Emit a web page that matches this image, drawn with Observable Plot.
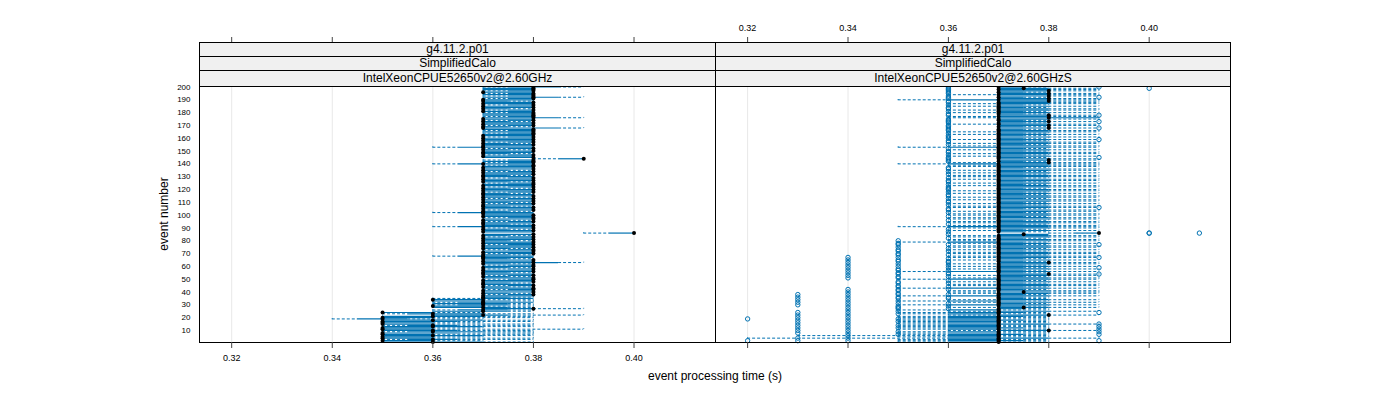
<!DOCTYPE html>
<html><head><meta charset="utf-8">
<script src="https://cdn.jsdelivr.net/npm/d3@7"></script>
<script src="https://cdn.jsdelivr.net/npm/@observablehq/plot@0.6"></script>
<style>
body{margin:0;background:#fff;font-family:"Liberation Sans",Arial,sans-serif;}
#chart{position:relative;width:1400px;height:400px;overflow:hidden;}
#chart svg{position:absolute;top:0;background:transparent;}
.strip{position:absolute;background:#f0f0f0;border:1px solid #000;box-sizing:border-box;text-align:center;font-size:12px;color:#000;white-space:nowrap;}
.lbl{position:absolute;font-size:12px;color:#000;white-space:nowrap;}
</style></head><body><div id="chart"></div>
<script>
// ---------------- data (times in ms) ----------------
const panelNames = ["IntelXeonCPUE52650v2@2.60GHz", "IntelXeonCPUE52650v2@2.60GHzS"];
const stripRow1 = "g4.11.2.p01";
const stripRow2 = "SimplifiedCalo";
const xTicks = [0.32, 0.34, 0.36, 0.38, 0.40];
const yTicks = [10,20,30,40,50,60,70,80,90,100,110,120,130,140,150,160,170,180,190,200];

const leftMedian = [
360,350,360,350,350,360,350,350,360,360,350,350,360,360,350,350,350,360,350,350,
360,370,360,350,370,370,380,370,360,370,370,370,370,360,370,370,370,380,370,380,
370,380,380,370,380,370,370,380,370,380,380,370,380,370,370,380,370,380,370,380,
380,370,380,370,380,370,370,370,370,380,370,380,380,370,380,370,380,370,380,370,
380,370,380,370,380,400,370,380,370,380,370,380,370,370,380,370,380,380,370,380,
370,370,370,380,370,380,370,370,380,370,380,370,380,370,380,370,370,380,370,380,
370,380,370,380,380,370,380,370,380,370,370,380,370,380,370,380,370,380,380,370,
380,380,380,390,380,370,380,370,370,380,370,380,370,370,380,370,380,370,380,370,
380,370,380,380,380,380,380,370,370,380,370,380,370,380,370,380,380,380,380,380,
370,380,370,380,370,380,370,380,370,370,380,380,380,380,380,370,380,380,380,380];
const leftQ1 = [
350,350,355,350,350,350,350,350,355,350,350,350,350,355,350,350,350,350,345,350,
350,360,355,350,360,365,370,360,360,365,360,365,360,360,370,370,370,375,370,370,
370,375,370,370,375,370,370,370,370,375,370,370,375,370,370,370,370,375,370,370,
375,370,370,370,370,370,370,365,370,375,370,370,375,370,370,370,375,370,370,370,
370,370,375,370,370,395,370,370,370,375,365,370,370,370,375,370,370,375,370,370,
370,365,370,375,370,370,370,370,375,370,370,370,375,370,370,370,370,375,370,370,
370,375,370,370,375,370,370,370,375,370,370,370,370,375,370,370,370,370,375,365,
375,370,375,385,370,370,375,370,370,370,370,375,365,370,370,370,375,370,370,370,
375,370,370,375,370,375,370,370,370,375,370,370,370,375,370,370,375,370,370,375,
370,375,370,370,370,375,370,370,370,370,375,370,375,370,375,370,375,370,370,375];
const leftQ3 = [
370,360,365,360,360,370,360,365,370,365,360,360,370,365,360,360,365,370,355,360,
370,375,370,360,375,375,380,375,370,375,375,380,375,370,380,375,380,380,375,380,
380,380,380,375,380,380,375,380,380,380,380,375,380,380,375,380,380,380,375,380,
380,375,385,380,380,375,380,380,375,380,380,380,380,375,380,380,380,380,380,375,
380,380,380,375,380,400,380,380,375,380,380,380,375,380,380,375,380,380,380,380,
380,380,375,380,380,380,375,380,380,375,380,380,380,375,380,380,375,380,380,380,
375,380,380,380,380,375,380,380,380,380,375,380,380,380,375,380,380,380,380,380,
380,380,380,390,380,380,380,375,380,380,375,380,380,380,380,375,380,380,380,380,
380,380,380,380,380,380,380,385,375,380,380,380,375,380,380,385,380,380,380,380,
380,380,375,380,380,380,380,380,375,380,380,385,380,380,380,380,380,380,380,385];
const leftLo = [
350,350,350,350,350,350,350,350,350,350,350,350,350,350,350,350,350,350,340,350,
350,360,350,350,360,360,370,360,360,360,360,360,360,360,360,370,370,370,370,370,
370,370,370,370,370,370,370,370,370,370,370,370,370,370,370,370,370,370,370,370,
370,370,370,370,370,370,370,360,370,370,370,370,370,370,370,370,370,370,370,370,
370,370,370,370,370,390,370,370,370,370,360,370,370,370,370,370,370,370,370,370,
370,360,370,370,370,370,370,370,370,370,370,370,370,370,370,370,370,370,370,370,
370,370,370,370,370,370,370,370,370,370,370,370,370,370,370,370,370,370,370,360,
370,370,370,380,370,370,370,370,370,370,370,370,360,370,370,370,370,370,370,370,
370,370,370,370,370,370,370,370,370,370,370,370,370,370,370,370,370,370,370,370,
370,370,370,370,370,370,370,370,370,370,370,370,370,370,370,370,370,370,370,370];
const leftHi = [
380,370,380,380,370,380,380,380,380,380,390,370,380,380,380,370,380,380,370,380,
380,390,380,370,380,380,390,380,380,380,380,380,380,380,380,380,380,380,380,380,
380,380,380,380,380,380,380,380,380,380,380,380,380,380,380,380,380,380,380,380,
380,380,390,380,380,380,380,380,380,380,380,380,380,380,380,380,380,380,380,380,
380,380,380,380,380,400,380,380,380,380,380,380,380,380,380,380,380,380,380,380,
380,380,380,380,380,380,380,380,380,380,380,380,380,380,380,380,380,380,380,380,
380,380,380,380,380,380,380,380,380,380,380,380,380,380,380,380,380,380,380,380,
380,380,380,390,380,380,380,380,380,380,380,380,380,380,380,380,380,380,380,380,
380,380,380,380,380,380,380,390,380,380,380,380,380,380,380,390,380,380,380,380,
380,380,380,380,380,380,380,380,380,380,380,390,380,380,380,380,380,380,380,390];

const rightMedian = [
370,370,370,370,370,370,370,370,370,380,370,370,370,370,370,370,370,370,370,370,
370,380,370,370,370,370,370,375,370,370,370,370,370,370,370,370,370,370,370,375,
370,370,370,370,370,370,370,370,370,370,370,370,370,380,370,370,370,370,370,370,
370,370,380,370,370,370,370,370,370,370,370,370,370,370,370,370,370,370,370,370,
370,370,370,370,375,390,370,370,370,370,370,370,370,370,370,370,370,370,370,370,
370,370,370,370,370,370,370,370,370,370,370,370,370,370,370,370,370,370,370,370,
370,370,370,370,370,370,370,370,370,370,370,370,370,370,370,370,370,370,370,370,
380,370,380,370,370,370,370,370,370,370,370,370,370,370,370,370,370,370,370,370,
370,370,370,370,370,370,370,380,370,380,370,370,380,370,370,380,370,380,370,370,
370,370,370,370,370,370,370,370,380,370,380,370,380,370,380,370,380,370,375,370];
const rightQ1 = [
360,360,360,360,360,360,360,360,360,370,360,360,360,360,360,360,360,360,360,360,
360,370,360,360,370,360,370,370,370,360,370,370,360,370,370,370,360,370,370,370,
370,370,360,370,370,370,370,370,370,360,370,370,370,370,370,360,370,370,370,370,
370,370,370,370,370,370,370,370,370,370,370,370,370,370,370,370,370,370,360,370,
370,370,370,370,370,385,370,370,370,370,360,370,370,370,370,370,370,370,370,370,
370,370,370,370,370,370,370,370,370,370,370,370,370,370,370,370,370,370,370,370,
370,370,370,370,370,370,370,370,370,370,370,370,370,370,370,370,370,370,370,360,
370,370,370,370,370,370,370,370,370,370,370,370,360,370,370,370,370,370,370,370,
370,370,370,370,370,370,370,370,370,370,370,370,370,370,370,370,370,370,370,370,
370,370,370,370,370,370,370,370,370,360,370,370,370,370,370,370,370,370,370,370];
const rightQ3 = [
370,375,370,380,370,370,375,370,370,380,370,375,370,370,380,370,370,375,370,370,
375,380,370,375,380,370,375,380,375,380,375,380,375,380,375,375,380,375,380,380,
380,375,380,375,380,380,375,380,375,380,380,375,380,380,375,380,375,380,375,380,
375,380,380,375,380,375,380,380,375,380,380,375,380,375,380,380,375,380,375,380,
380,375,380,380,380,390,375,380,375,380,380,380,375,380,380,375,380,380,375,380,
380,375,380,380,375,380,380,375,380,375,380,380,375,380,380,375,380,375,380,380,
375,380,380,375,380,375,380,380,375,380,380,375,380,375,380,380,375,380,380,380,
380,375,380,380,375,380,375,380,380,375,380,375,380,380,375,380,380,375,380,375,
380,375,380,375,380,380,375,380,375,380,380,375,380,375,380,390,380,380,375,380,
375,380,380,375,380,375,380,380,380,380,380,375,380,380,380,375,380,380,380,375];
const rightLo = [
350,350,350,320,350,330,350,350,350,360,350,350,350,350,350,350,350,350,350,350,
350,360,350,350,360,350,370,360,370,350,370,360,350,360,370,370,350,370,360,360,
360,370,350,370,360,360,370,360,370,350,360,370,360,370,370,350,370,360,370,360,
370,360,370,370,360,370,360,360,370,360,360,370,360,370,360,360,370,360,350,360,
360,370,360,360,370,380,370,360,370,360,350,360,370,360,360,370,360,360,370,360,
360,370,360,370,370,360,360,370,360,370,370,360,370,360,370,370,360,370,360,370,
370,370,360,370,360,370,370,360,370,360,360,370,360,370,360,370,370,360,360,350,
360,370,370,370,370,360,370,360,370,370,360,370,350,360,370,360,370,370,360,370,
370,370,360,370,360,370,370,370,370,370,360,370,370,370,370,360,360,370,370,360,
370,360,370,370,360,370,360,370,370,350,370,370,370,360,370,370,370,370,370,370];
const rightHi = [
380,380,380,390,380,380,380,380,380,390,380,380,380,380,390,380,380,380,380,380,
380,390,380,380,390,380,380,390,380,390,380,390,380,390,380,380,390,380,390,390,
390,380,390,380,390,390,380,390,380,390,390,380,390,390,380,390,380,390,380,390,
380,390,390,380,390,380,390,390,380,390,390,380,390,380,390,390,380,390,380,390,
390,380,390,390,380,390,380,390,380,390,390,390,380,390,390,380,390,390,380,390,
390,380,390,390,380,390,390,380,390,380,390,390,380,390,390,380,390,380,390,390,
380,390,390,380,390,380,390,390,380,390,390,380,390,380,390,390,380,390,390,390,
390,380,390,390,380,390,380,390,390,380,390,380,390,390,380,390,390,380,390,380,
390,380,390,380,390,390,380,390,380,390,390,380,390,380,390,390,390,390,380,390,
380,390,390,380,390,380,390,390,390,390,390,380,390,390,390,380,390,390,390,380];

// outliers of the right panel: event numbers per outlying time (ms)
const rightOutlierTimes = [320, 330, 340, 350, 360, 390, 400, 410];
const out320 = [2, 19];
const out330 = [2,4,8,10,12,14,16,18,20,22,24,30,32,34,36,38];
const out340 = [2,4,6,8,10,12,14,16,18,20,22,24,26,28,30,32,34,36,38,40,42,51,53,55,57,59,61,63,65,67];
const out350 = [7,9,12,14,17,19,23,25,27,28,29,31,33,35,36,38,39,41,42,44,45,47,48,51,52,54,55,57,58,60,62,64,65,67,69,70,72,73,75,77,78,80];
const out360 = [27,29,31,35,36,38,42,44,47,49,52,54,55,57,59,61,63,64,66,69,72,74,77,82,85,87,89,93,96,99,102,104,105,108,110,111,113,115,116,118,120,121,122,124,126,127,129,132,134,136,137,142,143,144,145,147,149,150,152,155,157,158,160,161,162,164,166,167,168,169,170,172,173,174,175,178,179,181,183,184,186,188,189,191,192,193,195,196,197,198,199,200];
const out390 = [2,7,9,11,13,15,24,54,59,67,77,106,145,159,168,173,178,192,200];
const out400 = [86, 86, 199];
const out410 = [86];

// ---------------- build tables ----------------
function table(med, q1, q3, lo, hi) {
  return med.map((m, i) => ({event: i + 1, med: m / 1000, q1: q1[i] / 1000, q3: q3[i] / 1000, lo: lo[i] / 1000, hi: hi[i] / 1000}));
}
const leftData = table(leftMedian, leftQ1, leftQ3, leftLo, leftHi);
const rightData = table(rightMedian, rightQ1, rightQ3, rightLo, rightHi);
const outLists = [out320, out330, out340, out350, out360, out390, out400, out410];
const rightOut = [];
outLists.forEach((list, k) => list.forEach(e => rightOut.push({event: e, t: rightOutlierTimes[k] / 1000})));

const BLUE = "#0072B2";
const xDomain = [0.3136, 0.4162];
const yDomain = [0.6, 200.4];
const chart = document.getElementById("chart");

function place(svg, left) { svg.style.left = left + "px"; chart.appendChild(svg); }

function panel(data, outliers, opts) {
  const marks = [
    Plot.ruleX(xTicks, {stroke: "#e8e8e8", strokeWidth: 1}),
    Plot.ruleY(data, {y: "event", x1: "lo", x2: "q1", stroke: BLUE, strokeWidth: 1, strokeDasharray: "3,2"}),
    Plot.ruleY(data, {y: "event", x1: "q3", x2: "hi", stroke: BLUE, strokeWidth: 1, strokeDasharray: "3,2"}),
    Plot.ruleX(data, {x: "lo", y1: d => d.event - 0.25, y2: d => d.event + 0.25, stroke: BLUE, strokeWidth: 1}),
    Plot.ruleX(data, {x: "hi", y1: d => d.event - 0.25, y2: d => d.event + 0.25, stroke: BLUE, strokeWidth: 1}),
    Plot.ruleY(data, {y: "event", x1: "q1", x2: "q3", stroke: BLUE, strokeWidth: 1.2}),
    Plot.dot(outliers, {x: "t", y: "event", r: 2.2, stroke: BLUE, strokeWidth: 1, fill: "none"}),
    Plot.dot(data, {x: "med", y: "event", r: 2, fill: "#000", stroke: "none"}),
    Plot.frame({stroke: "#000", strokeWidth: 1}),
    Plot.axisX({anchor: "bottom", ticks: xTicks, tickSize: 6, tickPadding: 6, fontSize: 9, stroke: "#444",
      tickFormat: opts.bottomLabels ? d3.format(".2f") : () => "", label: null})
  ];
  if (opts.leftAxis) marks.push(Plot.axisY({anchor: "left", ticks: yTicks, tickSize: 0, tickPadding: 9, fontSize: 8, label: null}));
  return Plot.plot({
    width: opts.width, height: 400,
    marginLeft: opts.mL, marginRight: opts.mR, marginTop: 86, marginBottom: 58,
    style: {background: "transparent", fontFamily: "Liberation Sans, Arial, sans-serif"},
    x: {domain: xDomain},
    y: {domain: yDomain, axis: opts.leftAxis ? undefined : null},
    marks
  });
}

function topAxis(opts) {
  return Plot.plot({
    width: opts.width, height: 44,
    marginLeft: opts.mL, marginRight: opts.mR, marginTop: 43, marginBottom: 0,
    style: {background: "transparent", fontFamily: "Liberation Sans, Arial, sans-serif"},
    x: {domain: xDomain},
    marks: [Plot.axisX({anchor: "top", ticks: xTicks, tickSize: 7, tickPadding: 6, fontSize: 9, stroke: "#444",
      tickFormat: opts.labels ? d3.format(".2f") : () => "", label: null})]
  });
}

place(topAxis({width: 730, mL: 199, mR: 15, labels: false}), 0);
place(topAxis({width: 700, mL: 15, mR: 170, labels: true}), 700);
place(panel(leftData, [], {width: 730, mL: 199, mR: 15, bottomLabels: true, leftAxis: true}), 0);
place(panel(rightData, rightOut, {width: 700, mL: 15, mR: 170, bottomLabels: false, leftAxis: false}), 700);

// strips
function strip(text, left, width, top, height) {
  const d = document.createElement("div");
  d.className = "strip";
  d.style.left = left + "px"; d.style.width = width + "px";
  d.style.top = top + "px"; d.style.height = height + "px"; d.style.lineHeight = (height - 2) + "px";
  d.textContent = text;
  chart.appendChild(d);
}
[[199, 517, panelNames[0]], [715, 516, panelNames[1]]].forEach(([l, w, name]) => {
  strip(stripRow1, l, w, 42, 15);
  strip(stripRow2, l, w, 56, 15);
  strip(name, l, w, 70, 17);
});

// axis titles
const xt = document.createElement("div");
xt.className = "lbl"; xt.textContent = "event processing time (s)";
xt.style.left = "615px"; xt.style.width = "200px"; xt.style.textAlign = "center"; xt.style.top = "369px";
chart.appendChild(xt);
const yt = document.createElement("div");
yt.className = "lbl"; yt.textContent = "event number";
yt.style.left = "114px"; yt.style.width = "100px"; yt.style.textAlign = "center"; yt.style.top = "207px";
yt.style.transform = "rotate(-90deg)";
chart.appendChild(yt);
</script></body></html>
